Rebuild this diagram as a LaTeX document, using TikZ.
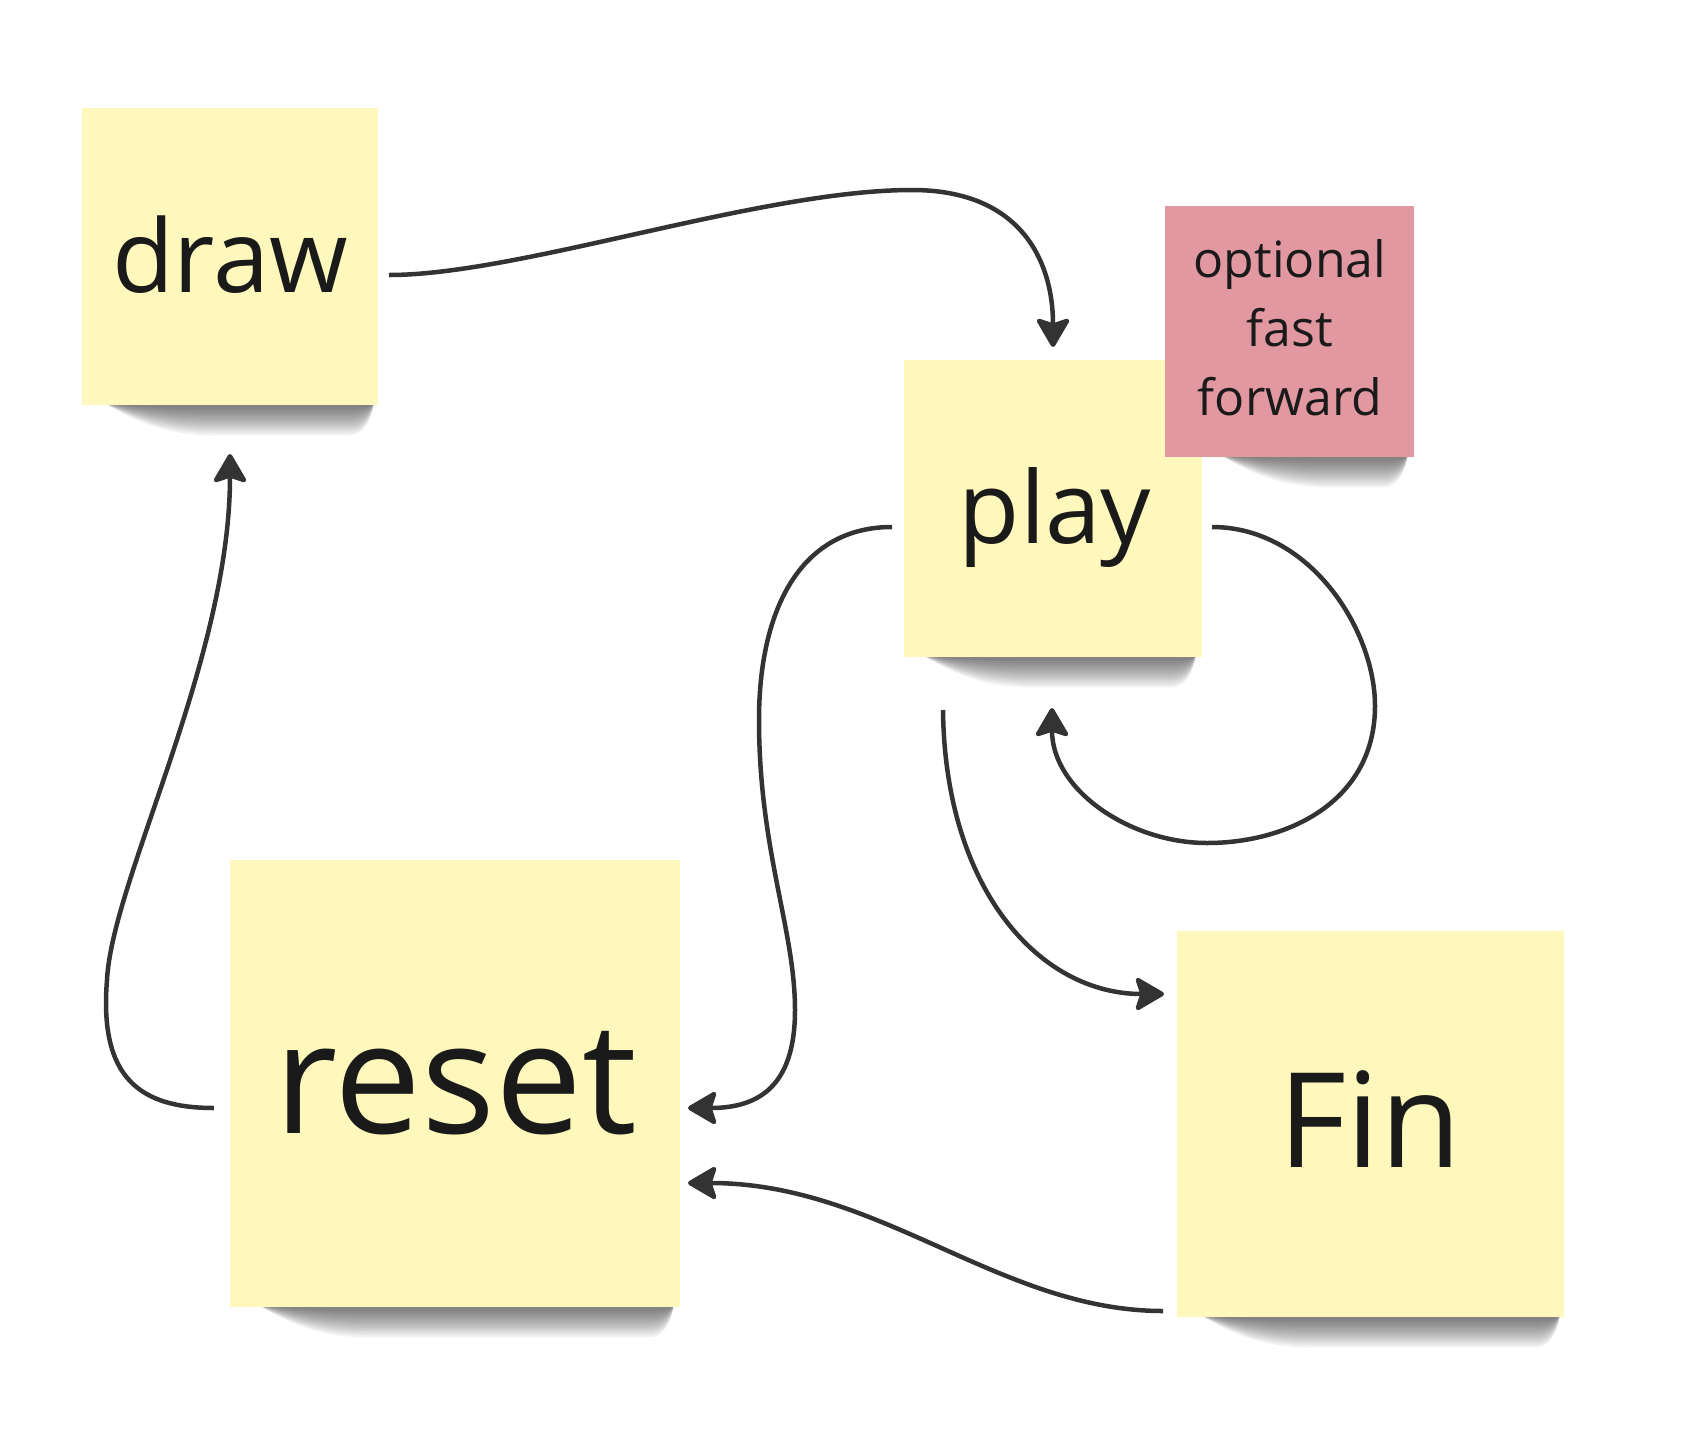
\documentclass[tikz,border=0pt]{standalone}
\usepackage{fontspec}
\setmainfont{Open Sans}
\usetikzlibrary{arrows.meta,calc}
\definecolor{notey}{RGB}{254,248,188}
\definecolor{notep}{RGB}{226,152,160}
\definecolor{inkc}{RGB}{26,26,26}
\definecolor{connc}{RGB}{51,51,51}
\tikzset{
  note/.style={rectangle, draw=none, fill=notey, inner sep=0pt, outer sep=0pt},
  pinknote/.style={note, fill=notep},
  lbl/.style={anchor=base, inner sep=0pt, outer sep=0pt, text=inkc},
  conn/.style={draw=connc, line width=4.5pt, -{Stealth[length=32pt,width=37pt,inset=6pt,round]}},
}
\newcommand\noteshadow[3]{%
  \foreach \k in {0,...,11}{%
    \pgfmathsetmacro\dd{4+2.4*\k}%
    \fill[black,opacity=0.05] (#1,#3-2) .. controls (#1+30,#3+0.5*\dd) and (#1+60,#3+\dd) .. (#1+110,#3+\dd) -- (#2-25,#3+\dd) .. controls (#2-10,#3+\dd) and (#2-3,#3+0.5*\dd) .. (#2,#3-2) -- cycle;
  }%
}
\begin{document}
\begin{tikzpicture}[x=1pt,y=-1pt]
\useasboundingbox (0,0) rectangle (1695,1451);
\fill[white] (0,0) rectangle (1695,1451);

% shadows and notes
\noteshadow{104}{374}{405}
\node[note, minimum width=296pt, minimum height=297pt] (drawnote) at (230,256.5) {};
\noteshadow{922}{1196}{657}
\node[note, minimum width=298pt, minimum height=297pt] (playnote) at (1053,508.5) {};
\noteshadow{1220}{1408}{457}
\node[pinknote, minimum width=249pt, minimum height=251pt] (ffnote) at (1289.5,331.5) {};
\noteshadow{258}{674}{1307}
\node[note, minimum width=450pt, minimum height=447pt] (resetnote) at (455,1083.5) {};
\noteshadow{1200}{1560}{1317}
\node[note, minimum width=387pt, minimum height=386pt] (finnote) at (1370.5,1124) {};

% labels
\node[lbl, font=\fontsize{101}{120}\selectfont] (drawtxt) at (230,292) {draw};
\node[lbl, font=\fontsize{100}{120}\selectfont] (playtxt) at (1055,543) {play};
\node[lbl, font=\fontsize{155}{180}\selectfont] (resettxt) at (456,1133) {reset};
\node[lbl, font=\fontsize{132}{160}\selectfont] (fintxt) at (1370,1167) {Fin};
\node[lbl, font=\fontsize{50}{69}\selectfont] (fftxta) at (1290,277) {optional};
\node[lbl, font=\fontsize{50}{69}\selectfont] (fftxtb) at (1290,346) {fast};
\node[lbl, font=\fontsize{50}{69}\selectfont] (fftxtc) at (1290,415) {forward};

% connector ends
\coordinate (c1s) at ([shift={(11,18.5)}]drawnote.east);
\coordinate (c1e) at ([shift={(0,-13)}]playnote.north);
\coordinate (c2s) at ([shift={(-12,18.5)}]playnote.west);
\coordinate (c2e) at ([shift={(8,24.5)}]resetnote.east);
\coordinate (c3s) at ([shift={(10,18.5)}]playnote.east);
\coordinate (c3e) at ([shift={(-1,51)}]playnote.south);
\coordinate (c4s) at ([shift={(-110,53)}]playnote.south);
\coordinate (c4e) at ([shift={(-13,-130)}]finnote.west);
\coordinate (c5s) at ([shift={(-14,-6)}]finnote.south west);
\coordinate (c5e) at ([shift={(8,99.5)}]resetnote.east);
\coordinate (c6s) at ([shift={(-16,24.5)}]resetnote.west);
\coordinate (c6e) at ([shift={(0,49)}]drawnote.south);

% connectors
\draw[conn] (c1s) .. controls (520,275) and (760,190) .. (912,190) .. controls (1020,190) and (1053,260) .. (c1e);
\draw[conn] (c2s) .. controls (800,527) and (759,610) .. (759,720) .. controls (759,850) and (795,930) .. (795,1010) .. controls (795,1085) and (760,1108) .. (c2e);
\draw[conn] (c3s) .. controls (1310,527) and (1375,630) .. (1375,706) .. controls (1375,800) and (1290,843) .. (1207,843) .. controls (1130,843) and (1052,790) .. (c3e);
\draw[conn] (c4s) .. controls (945,890) and (1040,994) .. (c4e);
\draw[conn] (c5s) .. controls (1000,1311) and (880,1183) .. (c5e);
\draw[conn] (c6s) .. controls (140,1108) and (99,1078) .. (107,980) .. controls (112,880) and (230,660) .. (c6e);
\end{tikzpicture}
\end{document}
